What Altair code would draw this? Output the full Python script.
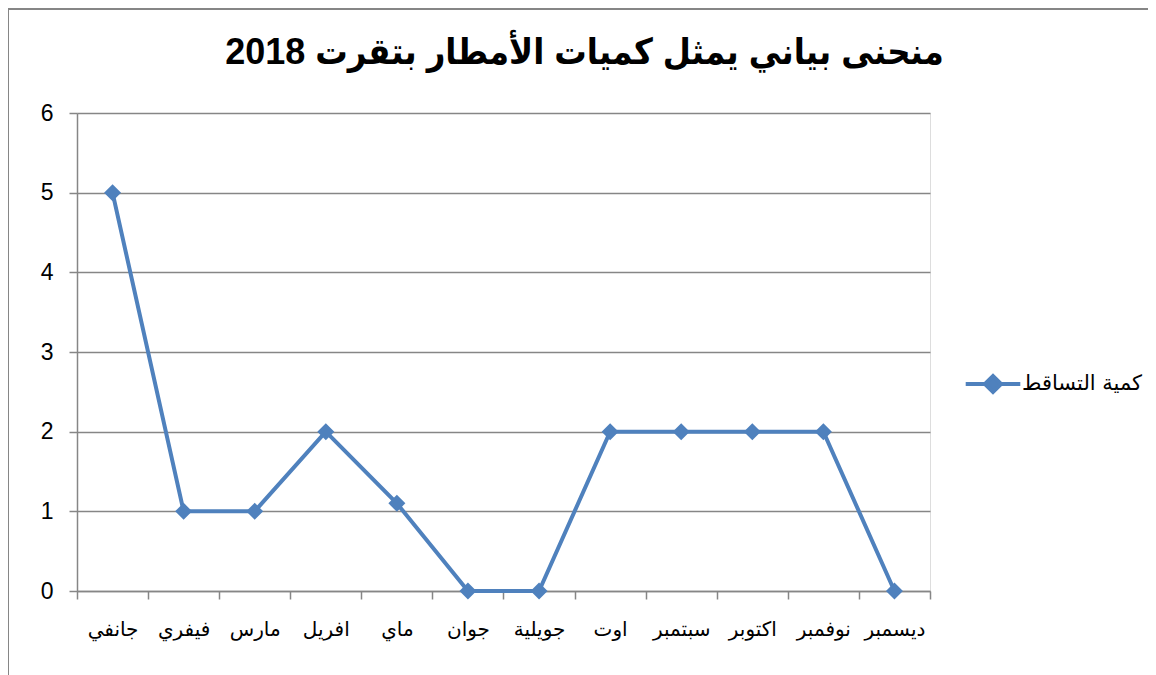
import altair as alt
import pandas as pd

months = ["جانفي", "فيفري", "مارس", "افريل", "ماي", "جوان", "جويلية", "اوت",
          "سبتمبر", "اكتوبر", "نوفمبر", "ديسمبر"]
values = [5, 1, 1, 2, 1.1, 0, 0, 2, 2, 2, 2, 0]
series_name = "كمية التساقط"
title_text = "منحنى بياني يمثل كميات الأمطار بتقرت 2018"

df = pd.DataFrame({"month": months, "value": values, "series": [series_name] * len(months)})

W, H = 853, 478
BLUE = "#4F81BD"
GRAY = "#868686"

x_enc = alt.X("month:N", sort=months,
              scale=alt.Scale(type="band", paddingInner=0, paddingOuter=0),
              axis=alt.Axis(title=None, tickBand="extent", grid=False,
                            labelAngle=0, labelFontSize=20, labelColor="black",
                            labelFont="DejaVu Sans", labelPadding=20,
                            domainColor=GRAY, tickColor=GRAY, tickSize=8,
                            domainWidth=1.5, tickWidth=1.5))
y_enc = alt.Y("value:Q", scale=alt.Scale(domain=[0, 6], nice=False),
              axis=alt.Axis(title=None, values=[0, 1, 2, 3, 4, 5, 6],
                            labelFontSize=23, labelColor="black",
                            labelFont="Liberation Sans", labelPadding=16,
                            grid=True, gridColor=GRAY, gridWidth=1.5,
                            domainColor=GRAY, tickColor=GRAY, tickSize=8,
                            domainWidth=1.5, tickWidth=1.5))

color_enc = alt.Color("series:N",
                      scale=alt.Scale(range=[BLUE]),
                      legend=alt.Legend(title=None, orient="none",
                                        legendX=893, legendY=248,
                                        symbolType="M-1.3,0L-0.38,0L0,-0.38L0.38,0L1.3,0L0.38,0L0,0.38L-0.38,0L-1.3,0Z",
                                        symbolSize=1764, symbolStrokeWidth=4,
                                        symbolFillColor=BLUE, symbolStrokeColor=BLUE,
                                        labelFontSize=21, labelFont="DejaVu Sans",
                                        labelColor="black", labelOffset=6))

line = alt.Chart(df).mark_line(strokeWidth=4, color=BLUE).encode(
    x=x_enc, y=y_enc, color=color_enc)
pts = alt.Chart(df).mark_point(shape="diamond", filled=True, size=289, opacity=1,
                               color=BLUE).encode(x=x_enc, y=y_enc, color=color_enc)

border = alt.Chart(df).mark_rule(color=GRAY, strokeWidth=2, clip=False).encode(
    x=alt.value(-69), x2=alt.value(-69), y=alt.value(-104), y2=alt.value(700))
border_top = alt.Chart(df).mark_rule(color=GRAY, strokeWidth=2, clip=False).encode(
    x=alt.value(-69), x2=alt.value(1200), y=alt.value(-104), y2=alt.value(-104))

chart = alt.layer(border, border_top, line, pts).properties(
    width=W, height=H,
    title=alt.TitleParams(title_text, fontSize=36, fontWeight="bold",
                          font="Liberation Sans, DejaVu Sans Condensed, DejaVu Sans",
                          color="black",
                          anchor="middle", dx=81, dy=64, offset=0),
    padding={"left": 69, "top": 105, "right": 218, "bottom": 84},
    autosize=alt.AutoSizeParams(type="none"),
).configure_view(stroke=None).configure(background="white")

chart.save("out.html", embed_options={"renderer": "svg", "actions": False})
